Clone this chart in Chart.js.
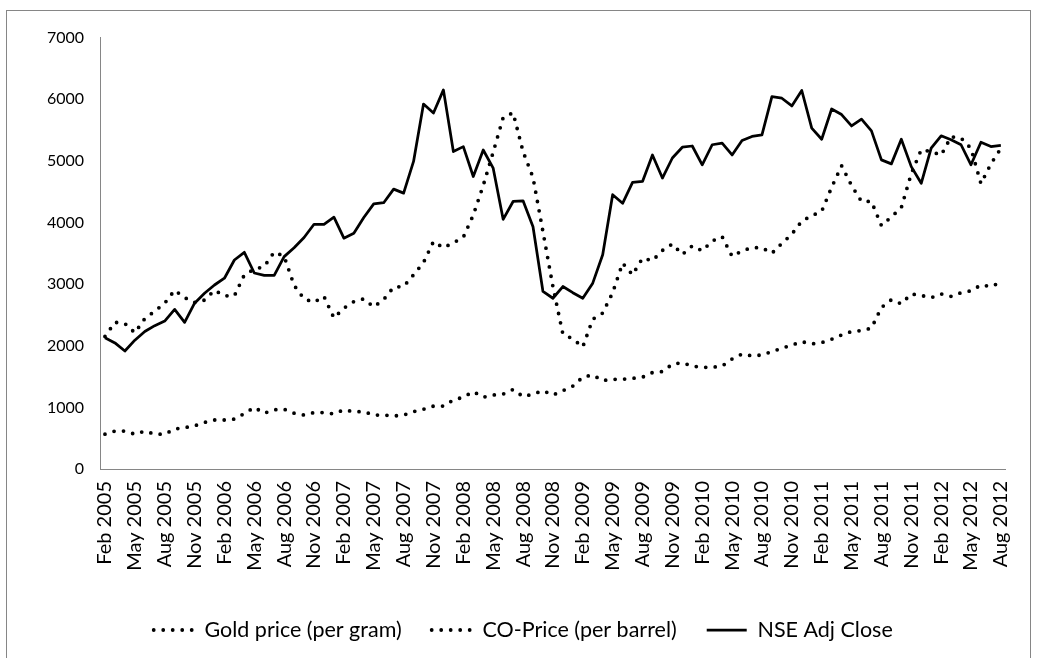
<!DOCTYPE html>
<html>
<head>
<meta charset="utf-8">
<script src="https://cdn.jsdelivr.net/npm/chart.js@4.4.1/dist/chart.umd.min.js"></script>
<style>
  html, body { margin: 0; padding: 0; background: #fff; }
  canvas { display: block; }
</style>
</head>
<body>
<canvas id="myLine" width="1037" height="658"></canvas>
<script>
// monthly categories Feb 2005 .. Aug 2012
var monthNames = ['Jan','Feb','Mar','Apr','May','Jun','Jul','Aug','Sep','Oct','Nov','Dec']
var months = []
for (var i = 0; i < 91; i++) {
    months.push(monthNames[(1 + i) % 12] + ' ' + (2005 + Math.floor((1 + i) / 12)))
}

var yTicks = [0, 1000, 2000, 3000, 4000, 5000, 6000, 7000]

var gold = [565,615,615,565,615,565,565,650,670,700,
    755,795,795,810,900,1000,905,960,970,905,
    875,915,915,895,960,930,930,875,875,860,
    875,930,970,1020,1020,1120,1165,1255,1165,1200,
    1215,1290,1175,1215,1270,1200,1270,1345,1490,1525,
    1435,1455,1455,1470,1490,1565,1580,1700,1725,1670,
    1650,1650,1670,1785,1865,1835,1850,1905,1960,2010,
    2065,2030,2050,2105,2175,2230,2245,2285,2620,2745,
    2680,2840,2815,2780,2840,2800,2860,2890,2985,2960,
    3030]

var crude = [2150,2380,2360,2210,2440,2560,2690,2900,2780,2700,
    2740,2900,2810,2810,3150,3240,3285,3520,3450,2980,
    2760,2705,2800,2450,2610,2715,2760,2630,2750,2950,
    2960,3150,3350,3690,3590,3670,3760,4120,4600,5140,
    5700,5780,5150,4730,3850,2960,2190,2110,1980,2430,
    2530,2860,3340,3150,3420,3380,3545,3650,3480,3620,
    3540,3700,3770,3450,3540,3590,3590,3500,3660,3810,
    4020,4110,4180,4570,4920,4600,4340,4340,3950,4090,
    4240,4790,5180,5150,5090,5390,5370,5200,4630,4950,
    5200]

var nse = [2130,2045,1915,2090,2230,2325,2400,2590,2380,2690,
    2850,2985,3095,3390,3515,3180,3140,3140,3445,3590,
    3755,3970,3970,4085,3745,3825,4080,4300,4320,4540,
    4475,4990,5920,5775,6150,5150,5230,4745,5175,4880,
    4050,4340,4350,3930,2880,2770,2960,2860,2770,3015,
    3475,4450,4310,4650,4665,5095,4720,5045,5220,5240,
    4935,5260,5285,5095,5330,5395,5420,6040,6015,5890,
    6140,5530,5350,5840,5750,5565,5675,5485,5015,4950,
    5350,4905,4635,5205,5405,5340,5260,4935,5300,5230,
    5250]

const FONT = 'Lato, "Liberation Sans", sans-serif'
const AXIS_GREY = '#868686'

// white page and the grey frame round the whole chart (bottom edge runs off the page)
const frame = {
    id: 'frame',
    beforeDraw(chart) {
        const c = chart.ctx
        c.save()
        c.fillStyle = '#fff'
        c.fillRect(0, 0, chart.width, chart.height)
        c.strokeStyle = AXIS_GREY
        c.lineWidth = 1
        c.strokeRect(6.5, 10.5, 1024, 660)
        c.restore()
    }
}

// legend samples should copy the dash of each line, not the point style
function legendLabels(chart) {
    const items = Chart.defaults.plugins.legend.labels.generateLabels(chart)
    items.forEach(function (item) {
        const ds = chart.data.datasets[item.datasetIndex]
        item.lineDash = ds.borderDash || []
        item.lineCap = ds.borderCapStyle || 'butt'
        item.lineWidth = ds.borderWidth
        item.strokeStyle = '#000'
        item.fontColor = '#000'
    })
    return items
}

const dotted = {
    borderColor: '#000',
    backgroundColor: '#000',
    borderWidth: 3.8,
    borderDash: [0, 9.5],
    borderCapStyle: 'round',
    pointRadius: 0
}

const ctx = document.getElementById('myLine')
const data = {
    labels: months,
    datasets: [
        Object.assign({ label: 'Gold price (per gram)', data: gold }, dotted),
        Object.assign({ label: 'CO-Price (per barrel)', data: crude }, dotted),
        {
            label: 'NSE Adj Close',
            data: nse,
            borderColor: '#000',
            backgroundColor: '#000',
            borderWidth: 2.75,
            borderJoinStyle: 'round',
            pointRadius: 0
        }
    ]
}

const config = {
    type: 'line',
    data: data,
    plugins: [frame],
    options: {
        responsive: false,
        animation: false,
        devicePixelRatio: 1,
        // left padding + y axis width = 100, keeps the legend centred like the original
        layout: { padding: { top: 37.5, right: 26.5, bottom: 7.25, left: 36 } },
        elements: { line: { tension: 0 } },
        scales: {
            x: {
                offset: true,
                grid: { display: false, drawTicks: false },
                border: { color: AXIS_GREY, width: 1 },
                ticks: {
                    autoSkip: false,
                    minRotation: 90,
                    maxRotation: 90,
                    padding: 12,
                    color: '#000',
                    font: { family: FONT, size: 20 },
                    callback: function (val, idx) {
                        return idx % 3 === 0 ? months[idx] : ''
                    }
                },
                afterFit: function (scale) { scale.height = 120.25 }
            },
            y: {
                min: yTicks[0],
                max: yTicks[yTicks.length - 1],
                grid: { display: false, drawTicks: false },
                border: { color: AXIS_GREY, width: 1 },
                afterBuildTicks: function (scale) {
                    scale.ticks = yTicks.map(function (v) { return { value: v } })
                },
                ticks: {
                    padding: 16,
                    color: '#000',
                    font: { family: FONT, size: 16 },
                    callback: function (v) { return String(v) }
                },
                afterFit: function (scale) { scale.width = 64 }
            }
        },
        plugins: {
            tooltip: { enabled: false },
            legend: {
                position: 'bottom',
                labels: {
                    usePointStyle: true,
                    pointStyle: 'line',
                    pointStyleWidth: 40,
                    padding: 30,
                    color: '#000',
                    font: { family: FONT, size: 21.5 },
                    generateLabels: legendLabels
                }
            }
        }
    }
}

const myChart = new Chart(ctx, config)
</script>
</body>
</html>
